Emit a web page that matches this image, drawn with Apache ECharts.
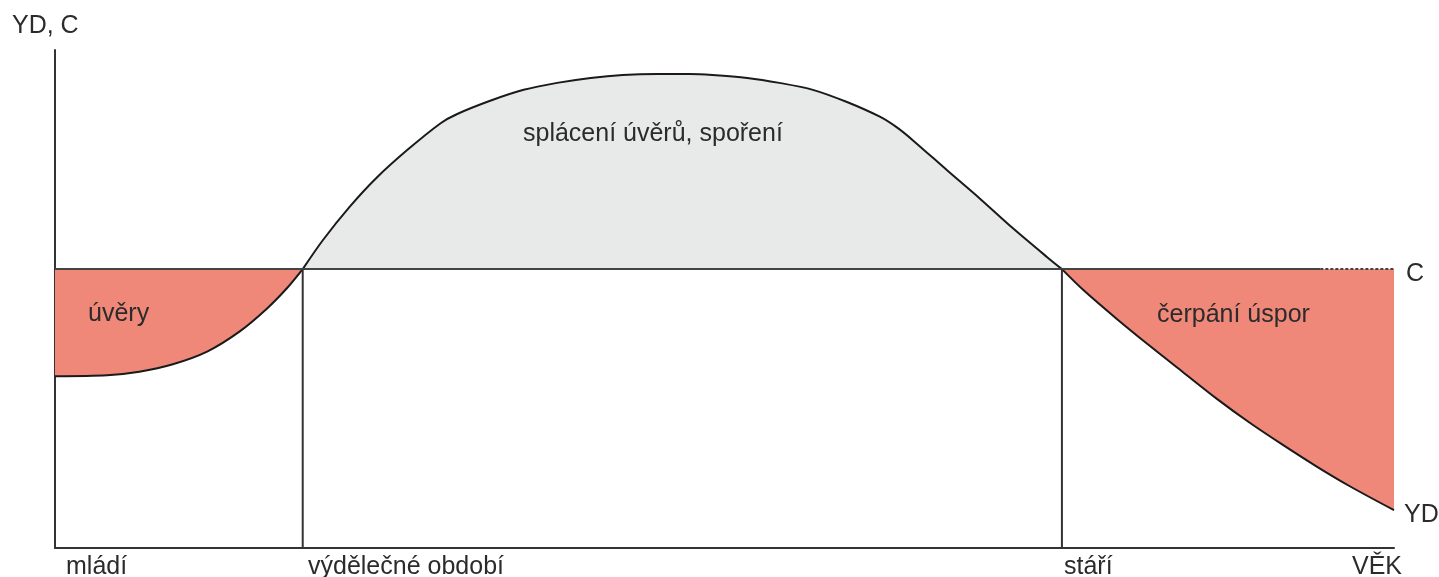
<!DOCTYPE html>
<html>
<head>
    <meta charset="utf-8">
    <title>Životní cyklus příjmu a spotřeby</title>
    <script src="https://cdn.jsdelivr.net/npm/echarts@6/dist/echarts.min.js"></script>
    <style>
        html, body { margin: 0; padding: 0; background: #fff; }
        #main { width: 1439px; height: 577px; }
    </style>
</head>
<body>
<div id="main"></div>
<script type="text/javascript">
    // úroveň spotřeby C (konstantní)
    var cLevel = 56;
    // hranice období (věk)
    var workStart = 18.5;
    var workEnd = 75.2;
    var cDottedFrom = 94.5;

    // disponibilní důchod YD - mládí
    var ydYouth = [[0, 34.5], [3.9, 34.7], [6.3, 35.4], [8.8, 36.9], [11.4, 39.5],
        [13.8, 43.5], [15.8, 48.0], [17.3, 52.1], [18.5, 56]];
    // výdělečné období
    var ydWork = [[18.5, 56], [20.0, 61.8], [22.0, 68.5], [24.0, 74.3], [26.3, 79.9],
        [28.8, 85.3], [30.0, 87.1], [32.5, 89.8], [35.0, 92.0], [37.5, 93.4],
        [40.0, 94.4], [42.4, 95.0], [45.0, 95.2], [47.4, 95.2], [49.1, 95.0],
        [51.7, 94.4], [54.1, 93.4], [56.6, 92.0], [59.1, 89.6], [61.6, 86.6],
        [62.9, 84.4], [64.1, 81.8], [66.6, 75.9], [69.1, 70.1], [71.5, 64.3],
        [74.1, 58.4], [75.2, 56]];
    // stáří
    var ydOld = [[75.2, 56], [76.8, 51.8], [79.3, 46.0], [81.8, 40.5], [84.2, 35.4],
        [86.8, 29.9], [89.2, 25.2], [91.7, 20.7], [94.2, 16.4], [96.7, 12.4], [100, 7.6]];

    var txtFont = '25px "Liberation Sans", Arial, sans-serif';
    var txtColor = '#2b2b2b';

    function lbl(text, x, y) {
        return {
            type: 'text', left: x, top: y - 11, z: 100,
            style: { text: text, font: txtFont, fill: txtColor }
        };
    }

    var myChart = echarts.init(document.getElementById('main'));

    var option = {
        animation: false,
        grid: { left: 55, right: 45, top: 50, bottom: 29 },
        xAxis: {
            type: 'value', min: 0, max: 100,
            axisLine: { lineStyle: { color: '#333', width: 2 } },
            axisTick: { show: false }, axisLabel: { show: false }, splitLine: { show: false }
        },
        yAxis: {
            type: 'value', min: 0, max: 100,
            axisLine: { show: true, lineStyle: { color: '#333', width: 2 } },
            axisTick: { show: false }, axisLabel: { show: false }, splitLine: { show: false }
        },
        series: [
            {
                name: 'úvěry', type: 'line', data: ydYouth, smooth: 0.3, symbol: 'none',
                lineStyle: { color: '#1a1a1a', width: 2 },
                areaStyle: { color: '#ef8878', opacity: 1, origin: cLevel }
            },
            {
                name: 'spoření', type: 'line', data: ydWork, smooth: 0.3, symbol: 'none',
                lineStyle: { color: '#1a1a1a', width: 2 },
                areaStyle: { color: '#e8e9e9', opacity: 1, origin: cLevel }
            },
            {
                name: 'čerpání úspor', type: 'line', data: ydOld, smooth: 0.3, symbol: 'none',
                lineStyle: { color: '#1a1a1a', width: 2 },
                areaStyle: { color: '#ef8878', opacity: 1, origin: cLevel }
            },
            {
                name: 'C', type: 'line', symbol: 'none',
                data: [[0, cLevel], [cDottedFrom, cLevel]],
                lineStyle: { color: '#444', width: 2 }
            },
            {
                name: 'C tečkovaně', type: 'line', symbol: 'none',
                data: [[cDottedFrom, cLevel], [100, cLevel]],
                lineStyle: { color: '#444', width: 2, type: [3, 2] }
            },
            {
                name: 'hranice1', type: 'line', symbol: 'none',
                data: [[workStart, 0], [workStart, cLevel]],
                lineStyle: { color: '#333', width: 2 }
            },
            {
                name: 'hranice2', type: 'line', symbol: 'none',
                data: [[workEnd, 0], [workEnd, cLevel]],
                lineStyle: { color: '#333', width: 2 }
            }
        ],
        graphic: [
            lbl('YD, C', 12, 25),
            lbl('mládí', 66, 566),
            lbl('výdělečné období', 308, 566),
            lbl('stáří', 1064, 566),
            lbl('VĚK', 1352, 566),
            lbl('C', 1406, 273),
            lbl('YD', 1404, 514),
            lbl('úvěry', 88, 313),
            lbl('čerpání úspor', 1157, 314),
            lbl('splácení úvěrů, spoření', 523, 133)
        ]
    };
    myChart.setOption(option);
</script>
</body>
</html>
